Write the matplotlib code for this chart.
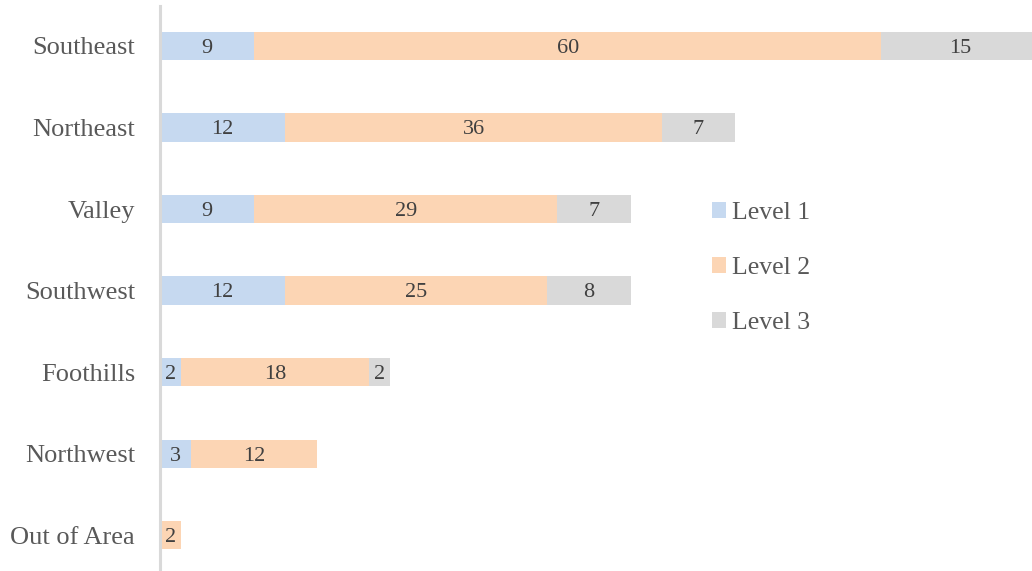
import numpy as np
import matplotlib
matplotlib.use('Agg')
import matplotlib.pyplot as plt

regions = ['Southeast', 'Northeast', 'Valley', 'Southwest', 'Foothills', 'Northwest', 'Out of Area']
level1 = [9, 12, 9, 12, 2, 3, 0]
level2 = [60, 36, 29, 25, 18, 12, 2]
level3 = [15, 7, 7, 8, 2, 0, 0]
series_names = ['Level 1', 'Level 2', 'Level 3']
colors = ['#c6d9f0', '#fcd5b4', '#d9d9d9']

plt.rcParams['font.family'] = ['Liberation Serif', 'DejaVu Serif']

fig = plt.figure(figsize=(10.32, 5.71), dpi=100)
ax = fig.add_axes([160 / 1032, 0, 1 - 160 / 1032, 565 / 571])

y = np.arange(len(regions))
left = np.zeros(len(regions))
for vals, name, col in zip([level1, level2, level3], series_names, colors):
    vals = np.array(vals, dtype=float)
    ax.barh(y, vals, left=left, height=0.345, color=col, label=name)
    for yi, v, l in zip(y, vals, left):
        if v > 0:
            ax.text(l + v / 2, yi + 0.03, f'{int(v)}', ha='center', va='center',
                    fontsize=16, color='#404040')
    left += vals

ax.set_xlim(0, 83.4)
ax.set_ylim(6.44, -0.49)
ax.set_yticks(y)
ax.set_yticklabels(regions, fontsize=19, color='#595959')
ax.tick_params(axis='y', length=0, pad=18)
ax.set_xticks([])
for s in ['top', 'right', 'bottom']:
    ax.spines[s].set_visible(False)
ax.spines['left'].set_color('#d9d9d9')
ax.spines['left'].set_linewidth(2.2)

leg = fig.legend(loc='center left', bbox_to_anchor=(699 / 1032, 1 - 268 / 571),
                 frameon=False, fontsize=18.5, handlelength=0.55, handleheight=0.55,
                 handletextpad=0.25, labelspacing=1.28, borderpad=0)
for t in leg.get_texts():
    t.set_color('#595959')

fig.savefig('out.png', dpi=100)
